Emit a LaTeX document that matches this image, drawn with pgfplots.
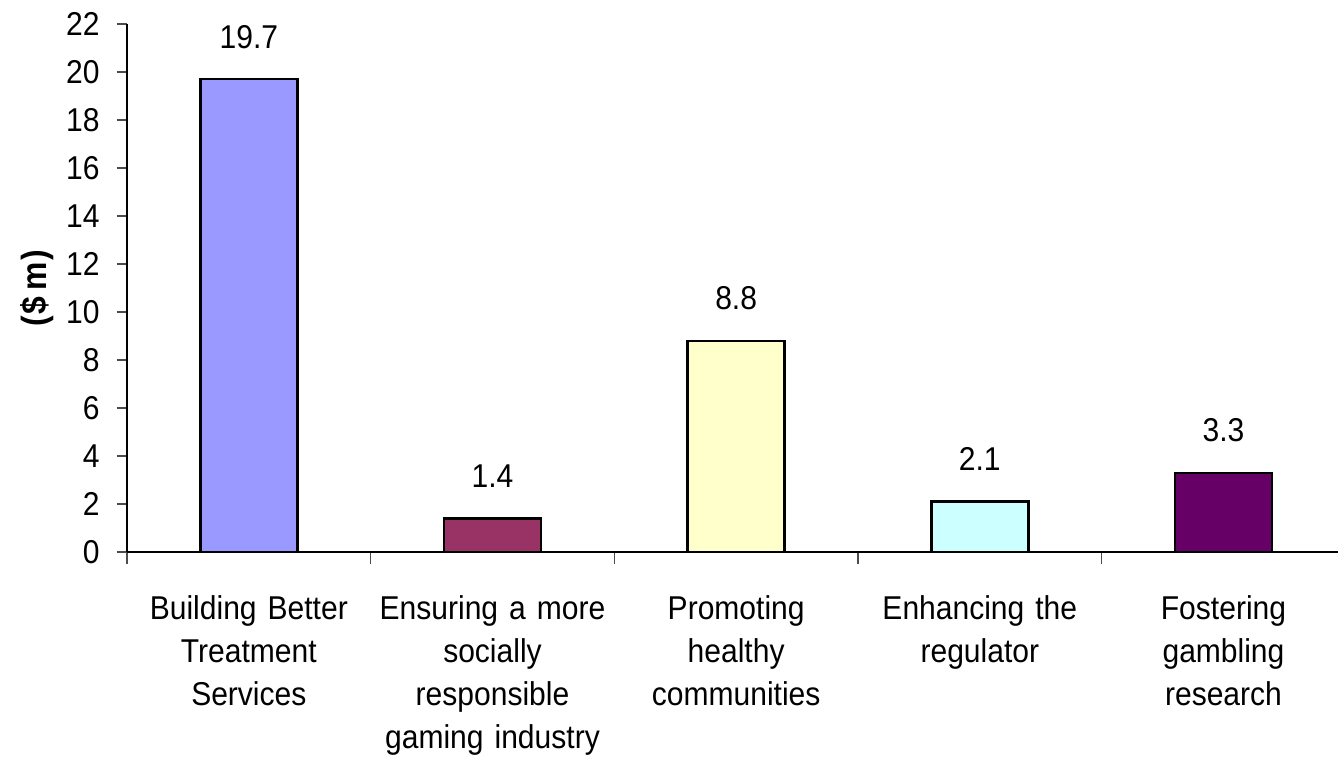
\documentclass[border=0pt]{standalone}
\usepackage{fontspec}
\setmainfont{Liberation Sans}[FakeStretch=0.91]
\usepackage{pgfplots}
\pgfplotsset{compat=1.18}
\definecolor{cA}{HTML}{9999FF}
\definecolor{cB}{HTML}{993366}
\definecolor{cC}{HTML}{FFFFCC}
\definecolor{cD}{HTML}{CCFFFF}
\definecolor{cE}{HTML}{660066}
\newcommand{\cf}{\fontsize{16.5}{21.5}\selectfont}
\begin{document}
\begin{tikzpicture}
\begin{axis}[
  at={(0,0)}, anchor=south west,
  scale only axis, width=605.5pt, height=264pt,
  xmin=-0.5, xmax=4.47, ymin=0, ymax=22,
  axis x line=bottom, axis y line=left,
  axis line style={-, line width=0.75pt},
  ytick={0,2,...,22},
  xtick={0,1,2,3,4},
  minor xtick={-0.5,0.5,1.5,2.5,3.5},
  major x tick style={draw=none},
  minor x tick style={line width=0.75pt, black!70},
  y tick style={line width=0.75pt, black!70},
  tick align=outside,
  minor tick length=6pt,
  major tick length=5pt,
  xticklabels={{Building Better\\Treatment\\Services},{Ensuring a more\\socially\\responsible\\gaming industry},{Promoting\\healthy\\communities},{Enhancing the\\regulator},{Fostering\\gambling\\research}},
  xticklabel style={align=center, text width=140pt, font=\cf, anchor=north, inner sep=0pt, yshift=-16.5pt},
  yticklabel style={font=\cf, anchor=east, inner sep=0pt, xshift=-8.5pt},
  /pgf/number format/assume math mode=true,
  ylabel={\bfseries(\kern1pt\$\kern3pt m\kern1pt)},
  ylabel style={at={(axis description cs:-0.0743,0.5)}, anchor=center, font=\fontsize{17.5}{20}\selectfont},
  nodes near coords,
  nodes near coords style={anchor=south, inner sep=0pt, yshift=14.8pt, font=\cf, black,
    /pgf/number format/.cd, fixed, precision=1, fixed zerofill},
]
\addplot[ybar, bar shift=0pt, bar width=48.5pt, fill=cA, draw=black, line width=1.2pt] coordinates {(0,19.7)};
\addplot[ybar, bar shift=0pt, bar width=48.5pt, fill=cB, draw=black, line width=1.2pt] coordinates {(1,1.4)};
\addplot[ybar, bar shift=0pt, bar width=48.5pt, fill=cC, draw=black, line width=1.2pt] coordinates {(2,8.8)};
\addplot[ybar, bar shift=0pt, bar width=48.5pt, fill=cD, draw=black, line width=1.2pt] coordinates {(3,2.1)};
\addplot[ybar, bar shift=0pt, bar width=48.5pt, fill=cE, draw=black, line width=1.2pt] coordinates {(4,3.3)};
\end{axis}
\pgfresetboundingbox
\useasboundingbox (-63.5pt,-104.5pt) rectangle (605.5pt,276pt);
\end{tikzpicture}
\end{document}
